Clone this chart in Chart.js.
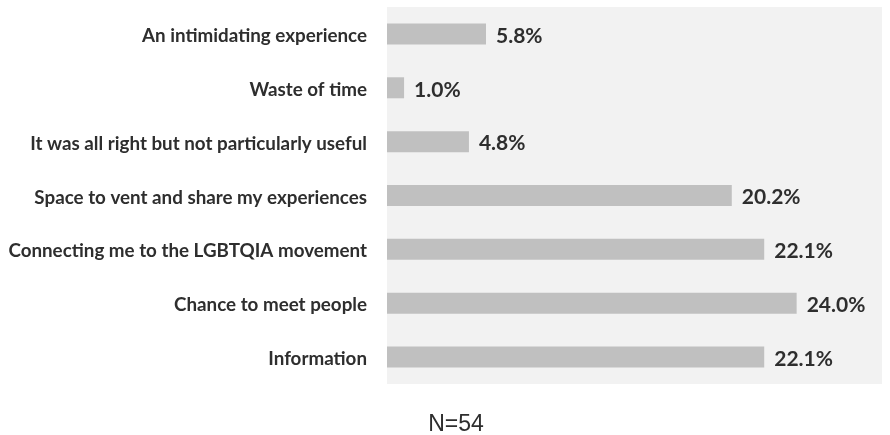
<!DOCTYPE html>
<html lang="en">
<head>
    <meta charset="UTF-8">
    <title>Feedback chart</title>
    <script src="https://cdn.jsdelivr.net/npm/chart.js"></script>
    <style>
        html, body { margin: 0; padding: 0; background: #ffffff; }
        .wrap { position: relative; width: 890px; height: 435px; }
        #note {
            position: absolute; left: 396px; width: 120px; top: 408px;
            text-align: center; font-family: "Liberation Sans", Arial, sans-serif;
            font-size: 23px; line-height: 30px; color: #2e2e2e;
        }
    </style>
</head>
<body>
<div class="wrap">
    <canvas id="myChart" width="890" height="435"></canvas>
    <div id="note">N=54</div>
</div>
<script>
    // データ
    const categories = [
        'An intimidating experience',
        'Waste of time',
        'It was all right but not particularly useful',
        'Space to vent and share my experiences',
        'Connecting me to the LGBTQIA movement',
        'Chance to meet people',
        'Information'
    ];
    const percentValues = [5.8, 1.0, 4.8, 20.2, 22.1, 24.0, 22.1];
    const valueLabels = ['5.8%', '1.0%', '4.8%', '20.2%', '22.1%', '24.0%', '22.1%'];

    // プロット領域の背景
    const plotBackground = {
        id: 'plotBackground',
        beforeDraw(chart) {
            const a = chart.chartArea;
            const c = chart.ctx;
            c.save();
            c.fillStyle = '#f2f2f2';
            c.fillRect(a.left, a.top, a.right - a.left, a.bottom - a.top);
            c.restore();
        }
    };

    // バーの右に値を表示
    const valueText = {
        id: 'valueText',
        afterDatasetsDraw(chart) {
            const c = chart.ctx;
            const meta = chart.getDatasetMeta(0);
            c.save();
            c.font = 'bold 21px Lato, "Open Sans", sans-serif';
            c.fillStyle = '#2e2e2e';
            c.textAlign = 'left';
            c.textBaseline = 'middle';
            meta.data.forEach((bar, i) => {
                c.fillText(valueLabels[i], bar.x + 10, bar.y + 2);
            });
            c.restore();
        }
    };

    const ctx = document.getElementById('myChart').getContext('2d');
    new Chart(ctx, {
        type: 'bar',
        data: {
            labels: categories,
            datasets: [{
                data: percentValues,
                backgroundColor: '#c0c0c0',
                borderWidth: 0,
                categoryPercentage: 1,
                barPercentage: 0.39
            }]
        },
        options: {
            indexAxis: 'y',
            responsive: false,
            animation: false,
            layout: { padding: { top: 7, bottom: 51, right: 8, left: 0 } },
            plugins: {
                legend: { display: false },
                tooltip: { enabled: false }
            },
            scales: {
                x: {
                    display: false,
                    min: 0,
                    max: 29
                },
                y: {
                    // 目盛り線は透明、ラベルとの間隔は tickLength で取る
                    grid: { display: true, color: 'transparent', drawOnChartArea: false, drawTicks: true, tickLength: 20 },
                    border: { display: false },
                    ticks: {
                        padding: 0,
                        labelOffset: 2,
                        color: '#2e2e2e',
                        font: { family: 'Lato, "Open Sans", sans-serif', weight: 'bold', size: 18.8, lineHeight: 0.7 }
                    },
                    afterFit(scale) { scale.width = 387; }
                }
            }
        },
        plugins: [plotBackground, valueText]
    });
</script>
</body>
</html>
